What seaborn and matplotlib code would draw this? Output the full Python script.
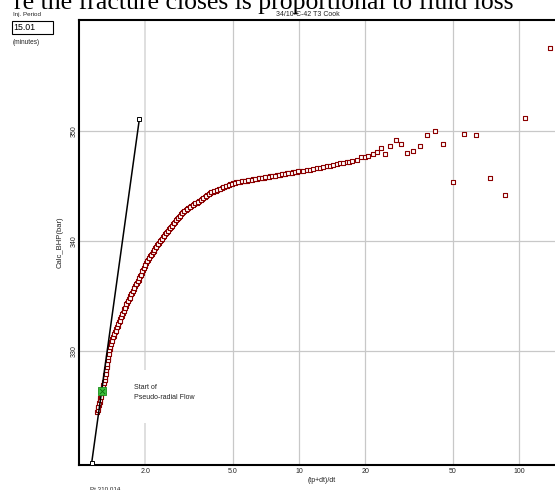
import matplotlib
matplotlib.use("Agg")
import matplotlib.pyplot as plt
from matplotlib.patches import Rectangle
import pandas as pd
import seaborn as sns

# Horner analysis of the fall-off: (tp+dt)/dt against calculated BHP
horner_time = [
    1.209, 1.220, 1.230, 1.241, 1.251, 1.260, 1.270, 1.280, 1.290, 1.301,
    1.311, 1.318, 1.325, 1.332, 1.339, 1.346, 1.353, 1.359, 1.367, 1.377,
    1.390, 1.404, 1.419, 1.439, 1.459, 1.479, 1.500, 1.521, 1.542, 1.563,
    1.585, 1.607, 1.629, 1.653, 1.682, 1.711, 1.740, 1.771, 1.802, 1.833,
    1.865, 1.895, 1.925, 1.956, 1.988, 2.020, 2.052, 2.098, 2.139, 2.182,
    2.225, 2.270, 2.314, 2.360, 2.407, 2.462, 2.515, 2.569, 2.624, 2.680,
    2.737, 2.795, 2.852, 2.911, 2.971, 3.054, 3.141, 3.235, 3.327, 3.421,
    3.518, 3.617, 3.726, 3.832, 3.940, 4.061, 4.184, 4.312, 4.444, 4.579,
    4.720, 4.863, 5.012, 5.194, 5.382, 5.577, 5.778, 5.987, 6.204, 6.429,
    6.661, 6.903, 7.152, 7.404, 7.664, 7.934, 8.213, 8.502, 8.801, 9.110,
    9.430, 9.761, 10.10, 10.46, 10.84, 11.22, 11.61, 12.03, 12.46, 12.90,
    13.36, 13.83, 14.32, 14.84, 15.36, 15.90, 16.48, 16.88, 17.36, 18.30,
    19.13, 19.95, 20.65, 21.63, 22.56, 23.59, 24.68, 25.93, 27.52, 29.09,
    30.87, 33.08, 35.48, 38.06, 41.39, 45.29, 50.28, 56.40, 63.97, 74.07,
    86.66, 106.5, 138.4,
]
calc_bhp = [
    324.50, 324.80, 325.10, 325.40, 325.70, 326.00, 326.30, 326.60, 326.90, 327.20,
    327.50, 327.80, 328.10, 328.40, 328.70, 329.00, 329.30, 329.60, 329.90, 330.20,
    330.50, 330.80, 331.10, 331.40, 331.70, 332.00, 332.30, 332.60, 332.90, 333.20,
    333.50, 333.80, 334.10, 334.40, 334.70, 335.00, 335.30, 335.60, 335.90, 336.20,
    336.50, 336.80, 337.10, 337.40, 337.70, 338.00, 338.30, 338.60, 338.85, 339.10,
    339.35, 339.60, 339.85, 340.10, 340.35, 340.60, 340.83, 341.06, 341.29, 341.52,
    341.75, 341.98, 342.20, 342.42, 342.64, 342.81, 342.98, 343.16, 343.33, 343.50,
    343.67, 343.84, 344.02, 344.19, 344.36, 344.47, 344.59, 344.70, 344.81, 344.93,
    345.04, 345.16, 345.27, 345.33, 345.38, 345.44, 345.49, 345.55, 345.60, 345.66,
    345.71, 345.77, 345.82, 345.87, 345.93, 345.98, 346.03, 346.09, 346.14, 346.20,
    346.25, 346.30, 346.36, 346.40, 346.45, 346.50, 346.55, 346.60, 346.66, 346.72,
    346.79, 346.83, 346.88, 346.97, 347.06, 347.12, 347.18, 347.22, 347.27, 347.36,
    347.61, 347.66, 347.75, 347.91, 348.09, 348.48, 347.88, 348.66, 349.21, 348.79,
    347.97, 348.21, 348.64, 349.64, 350.00, 348.79, 345.36, 349.75, 349.64, 345.70,
    344.18, 351.15, 357.52,
]

# Further samples from the densely logged late-time part of the fall-off
late_horner_time = [
    1.2145, 1.225, 1.2355, 1.246, 1.2555, 1.265, 1.275, 1.285, 1.2955, 1.306,
    1.3145, 1.3215, 1.3285, 1.3355, 1.3425, 1.3495, 1.356, 1.363, 1.372, 1.3835,
    1.397, 1.4115, 1.429, 1.449, 1.469, 1.4895, 1.5105, 1.5315, 1.5525, 1.574,
    1.596, 1.618, 1.641, 1.6675, 1.6965, 1.7255, 1.7555, 1.7865, 1.8175, 1.849,
    1.88, 1.91, 1.9405, 1.972, 2.004, 2.036, 2.075, 2.1185, 2.1605, 2.2035,
    2.2475, 2.292, 2.337, 2.3835, 2.4345, 2.4885, 2.542, 2.5965, 2.652, 2.7085,
    2.766, 2.8235, 2.8815, 2.941, 3.0125, 3.0975, 3.188, 3.281, 3.374, 3.4695,
    3.5675, 3.6715, 3.779, 3.886, 4.0005, 4.1225, 4.248, 4.378, 4.5115, 4.6495,
    4.7915, 4.9375, 5.103, 5.288, 5.4795, 5.6775, 5.8825, 6.0955, 6.3165, 6.545,
    6.782, 7.0275, 7.278, 7.534, 7.799, 8.0735, 8.3575, 8.6515, 8.9555, 9.27,
    9.5955, 9.9305,
]
late_calc_bhp = [
    324.65, 324.95, 325.25, 325.55, 325.85, 326.15, 326.45, 326.75, 327.05, 327.35,
    327.65, 327.95, 328.25, 328.55, 328.85, 329.15, 329.45, 329.75, 330.05, 330.35,
    330.65, 330.95, 331.25, 331.55, 331.85, 332.15, 332.45, 332.75, 333.05, 333.35,
    333.65, 333.95, 334.25, 334.55, 334.85, 335.15, 335.45, 335.75, 336.05, 336.35,
    336.65, 336.95, 337.25, 337.55, 337.85, 338.15, 338.45, 338.725, 338.975, 339.225,
    339.475, 339.725, 339.975, 340.225, 340.475, 340.715, 340.945, 341.175, 341.405, 341.635,
    341.865, 342.09, 342.31, 342.53, 342.725, 342.895, 343.07, 343.245, 343.415, 343.585,
    343.755, 343.93, 344.105, 344.275, 344.415, 344.53, 344.645, 344.755, 344.87, 344.985,
    345.10, 345.215, 345.30, 345.355, 345.41, 345.465, 345.52, 345.575, 345.63, 345.685,
    345.74, 345.795, 345.845, 345.90, 345.955, 346.005, 346.06, 346.115, 346.17, 346.225,
    346.275, 346.33,
]

# Straight-line fit through the pseudo-radial flow period
line_time = [1.142, 1.880]
line_bhp = [319.85, 351.06]

# Picked start of pseudo-radial flow
prf_time = [1.272]
prf_bhp = [326.36]

x_ticks = [2, 5, 10, 20, 50, 100]
x_tick_labels = ["2.0", "5.0", "10", "20", "50", "100"]
y_ticks = [330, 340, 350]
y_tick_labels = ["330", "340", "350"]

title = "34/10-C-42 T3 Cook"
x_label = "(tp+dt)/dt"
y_label = "Calc_BHP(bar)"
injection_period = "15.01"

sns.set_theme(style="white")
plt.rcParams["font.family"] = ["Liberation Sans", "DejaVu Sans"]

W, H = 555, 490
fig = plt.figure(figsize=(W / 100, H / 100), dpi=100)
fig.patch.set_facecolor("white")

# axes box in pixel units (the right side runs past the canvas)
left_px, right_px, top_px, bottom_px = 79.3, 560.0, 20.0, 465.0
ax = fig.add_axes([left_px / W, 1 - bottom_px / H,
                   (right_px - left_px) / W, (bottom_px - top_px) / H])
ax.set_facecolor("white")

ax.set_xscale("log")
ax.set_xlim(1.003, 153.6)
ax.set_ylim(319.64, 360.09)

ax.set_xticks(x_ticks, x_tick_labels)
ax.set_yticks(y_ticks, y_tick_labels)
ax.minorticks_off()
ax.tick_params(axis="both", length=0, labelsize=5, colors="#222222")
ax.tick_params(axis="x", pad=2.5)
ax.tick_params(axis="y", pad=1.5)
for lab in ax.get_yticklabels():
    lab.set_rotation(90)
    lab.set_va("center")

ax.grid(True, color="#c8c8c8", linewidth=0.9)
ax.set_axisbelow(True)
ax.get_xgridlines()[0].set_color("#dcdcdc")
ax.get_xgridlines()[0].set_linewidth(1.3)

for side in ["left", "bottom", "top"]:
    ax.spines[side].set_color("black")
    ax.spines[side].set_linewidth(1.5)
ax.spines["right"].set_visible(False)

# white panel behind the annotation text
ax.add_patch(Rectangle(((120 - left_px) / (right_px - left_px), (bottom_px - 423) / (bottom_px - top_px)),
                       80 / (right_px - left_px), 53 / (bottom_px - top_px),
                       transform=ax.transAxes, facecolor="white", edgecolor="none", zorder=1.5))

df = pd.concat([
    pd.DataFrame({"horner": horner_time, "bhp": calc_bhp}),
    pd.DataFrame({"horner": late_horner_time, "bhp": late_calc_bhp}),
], ignore_index=True)
sns.scatterplot(data=df, x="horner", y="bhp", ax=ax, marker="s", s=11,
                color="white", edgecolor="#8b0000", linewidth=0.8, zorder=3)

fit = pd.DataFrame({"horner": line_time, "bhp": line_bhp})
sns.lineplot(data=fit, x="horner", y="bhp", ax=ax, sort=False, color="black",
             linewidth=1.1, marker="s", markersize=3, markerfacecolor="white",
             markeredgecolor="black", markeredgewidth=0.7, zorder=4)

prf = pd.DataFrame({"horner": prf_time, "bhp": prf_bhp})
sns.scatterplot(data=prf, x="horner", y="bhp", ax=ax, marker="s", s=26,
                color="#3cbf3c", edgecolor="#1a8c1a", linewidth=0.6, zorder=5)
sns.scatterplot(data=prf, x="horner", y="bhp", ax=ax, marker="x", s=14,
                color="#0d6b0d", linewidth=0.6, zorder=6)

ax.text((134 - left_px) / (right_px - left_px), (bottom_px - 384) / (bottom_px - top_px),
        "Start of\nPseudo-radial Flow", transform=ax.transAxes, fontsize=5,
        ha="left", va="top", linespacing=1.55, color="#222222", zorder=6)

ax.set_xlabel(x_label, fontsize=5, color="#222222")
ax.set_ylabel(y_label, fontsize=5.5, color="#222222")
ax.xaxis.set_label_coords((322 - left_px) / (right_px - left_px), -(480 - bottom_px) / (bottom_px - top_px))
ax.xaxis.label.set_va("center")
ax.yaxis.set_label_coords((60 - left_px) / (right_px - left_px), 0.5)
ax.yaxis.label.set_va("center")

fig.text(308 / W, 1 - 15 / H, title, fontsize=5, ha="center", va="center", color="#222222")

# injection period box
fig.text(13 / W, 1 - 14.5 / H, "Inj. Period", fontsize=4.5, ha="left", va="center", color="#222222")
fig.patches.append(Rectangle((11.7 / W, 1 - 34.3 / H), 41 / W, 13.6 / H,
                             transform=fig.transFigure, facecolor="white",
                             edgecolor="black", linewidth=0.8))
fig.text(13.5 / W, 1 - 27.5 / H, injection_period, fontsize=6.3, ha="left", va="center", color="black")
fig.text(13 / W, 1 - 43 / H, "(minutes)", fontsize=4.7, ha="left", va="center", color="#222222")

fig.text(90 / W, 1 - 489 / H, "Pt 310 014", fontsize=4.5, ha="left", va="center", color="#222222")

# slide heading running off the top edge
fig.text(513 / W, 1 - 9 / H, "re the fracture closes is proportional to fluid loss",
         family=["Liberation Serif", "DejaVu Serif"], fontsize=18.5, ha="right",
         va="baseline", color="black")

fig.savefig("out.png", dpi=100)
